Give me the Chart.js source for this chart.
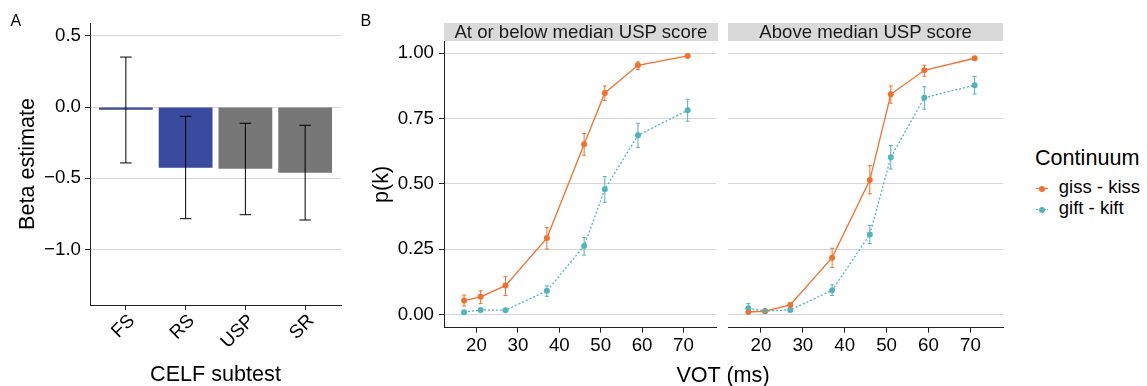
<!DOCTYPE html>
<html>
<head>
<meta charset="utf-8">
<script src="https://cdn.jsdelivr.net/npm/chart.js@4.4.1/dist/chart.umd.min.js"></script>
<style>
  body { margin: 0; background: #fff; font-family: "Liberation Sans", Arial, sans-serif; }
  #page { position: relative; width: 1147px; height: 386px; overflow: hidden; }
  canvas { position: absolute; top: 0; }
  .tag { position: absolute; font-size: 16px; line-height: 16px; color: #000; }
  .strip { position: absolute; top: 22.7px; height: 18px; background: #d9d9d9; font-size: 18.6px;
           line-height: 18px; text-align: center; color: #1a1a1a; white-space: nowrap; }
  #votTitle { position: absolute; left: 623px; width: 200px; top: 364.4px; text-align: center;
              font-size: 21.6px; line-height: 21.6px; color: #000; }
  #legend { position: absolute; left: 1034px; top: 0; }
  #legend .ttl { position: absolute; left: 1px; top: 146.9px; font-size: 21.6px; line-height: 21.6px; white-space: nowrap; }
  #legend .row { position: absolute; left: 0; height: 21px; font-size: 18.5px; line-height: 21px; white-space: nowrap; }
  #legend .key { position: absolute; left: 2px; width: 12px; top: 11.6px; height: 0; }
  #legend .dot { position: absolute; left: 2.7px; top: -3px; width: 6px; height: 6px; border-radius: 50%; }
  #legend .txt { position: absolute; left: 24.8px; top: 0; }
</style>
</head>
<body>
<div id="page">
  <canvas id="panelA" width="355" height="386" style="left:0"></canvas>
  <canvas id="panelB1" width="360" height="386" style="left:360px"></canvas>
  <canvas id="panelB2" width="290" height="386" style="left:720px"></canvas>
  <div class="tag" style="left:10.5px;top:12.5px">A</div>
  <div class="tag" style="left:360.5px;top:12.5px">B</div>
  <div class="strip" style="left:444px;width:273.7px">At or below median USP score</div>
  <div class="strip" style="left:728px;width:275.3px">Above median USP score</div>
  <div id="votTitle">VOT (ms)</div>
  <div id="legend"></div>
</div>
<script>
// Panel A: beta estimates per CELF subtest
const subtests = ['FS', 'RS', 'USP', 'SR'];
const betaEst = [-0.02, -0.425, -0.432, -0.46];
const betaLow = [-0.392, -0.783, -0.755, -0.792];
const betaHigh = [0.35, -0.065, -0.114, -0.128];

// Panel B: identification curves, VOT steps
const vot = [17, 21, 27, 37, 46, 51, 59, 71];

// at or below median USP score
const lowGiss = [0.054, 0.068, 0.111, 0.293, 0.652, 0.848, 0.954, 0.990];
const lowGissLo = [0.033, 0.042, 0.073, 0.251, 0.610, 0.819, 0.938, 0.985];
const lowGissHi = [0.075, 0.091, 0.145, 0.333, 0.693, 0.875, 0.967, 0.995];
const lowGift = [0.009, 0.018, 0.017, 0.091, 0.263, 0.480, 0.686, 0.782];
const lowGiftLo = [0.006, 0.013, 0.013, 0.070, 0.228, 0.430, 0.640, 0.740];
const lowGiftHi = [0.012, 0.023, 0.021, 0.110, 0.295, 0.528, 0.732, 0.824];

// above median USP score
const highGiss = [0.010, 0.013, 0.037, 0.218, 0.515, 0.843, 0.935, 0.981];
const highGissLo = [0.005, 0.008, 0.029, 0.180, 0.462, 0.809, 0.912, 0.974];
const highGissHi = [0.015, 0.018, 0.045, 0.254, 0.570, 0.875, 0.954, 0.987];
const highGift = [0.024, 0.014, 0.018, 0.093, 0.307, 0.602, 0.830, 0.878];
const highGiftLo = [0.005, 0.008, 0.011, 0.073, 0.272, 0.557, 0.786, 0.844];
const highGiftHi = [0.042, 0.020, 0.024, 0.114, 0.341, 0.647, 0.872, 0.911];

const FONT = '"Liberation Sans", Arial, sans-serif';
const ORANGE = '#f4702e';
const TEAL = '#52b3bd';
const AXIS = '#222';
const GRID = '#d6d6d6';

// draw whiskers from errLow/errHigh through the chart scales
const errorBars = {
  id: 'errorBars',
  afterDatasetsDraw(chart) {
    const ctx = chart.ctx;
    const xs = chart.scales.x, ys = chart.scales.y;
    chart.data.datasets.forEach((ds) => {
      if (!ds.errLow) return;
      ctx.save();
      ctx.strokeStyle = ds.errColor || ds.borderColor;
      ctx.lineWidth = ds.errWidth || 1;
      ds.data.forEach((d, j) => {
        const px = xs.getPixelForValue(d.x);
        const lo = ys.getPixelForValue(ds.errLow[j]);
        const hi = ys.getPixelForValue(ds.errHigh[j]);
        const c = ds.capHalf;
        ctx.beginPath();
        ctx.moveTo(px, lo); ctx.lineTo(px, hi);
        ctx.moveTo(px - c, lo); ctx.lineTo(px + c, lo);
        ctx.moveTo(px - c, hi); ctx.lineTo(px + c, hi);
        ctx.stroke();
      });
      ctx.restore();
    });
  }
};

Chart.defaults.font.family = FONT;
Chart.defaults.color = '#000';

const chartA = new Chart(document.getElementById('panelA'), {
  type: 'bar',
  data: {
    datasets: [{
      data: betaEst.map((v, i) => ({ x: i + 1, y: v })),
      backgroundColor: ['#3a4a9e', '#3a4a9e', '#777777', '#777777'],
      borderWidth: 0,
      barPercentage: 0.9,
      categoryPercentage: 1.0,
      errLow: betaLow,
      errHigh: betaHigh,
      errColor: '#000',
      capHalf: 5.8
    }]
  },
  options: {
    responsive: false,
    devicePixelRatio: 1,
    animation: false,
    layout: { padding: { top: 23, right: 14, left: 0, bottom: 0 } },
    plugins: { legend: { display: false }, tooltip: { enabled: false } },
    scales: {
      x: {
        type: 'linear',
        min: 0.4,
        max: 4.6,
        offset: false,
        afterFit: (s) => { s.height = 81; },
        border: { color: AXIS, width: 1 },
        grid: { offset: false, drawOnChartArea: false, tickColor: AXIS, tickLength: 5 },
        ticks: {
          stepSize: 1,
          includeBounds: false,
          minRotation: 45,
          maxRotation: 45,
          padding: 0,
          labelOffset: 6,
          font: { size: 18.7 },
          callback: (v) => subtests[v - 1]
        },
        title: { display: true, text: 'CELF subtest', font: { size: 21.6, lineHeight: 1 }, padding: { top: 0, bottom: 0 } }
      },
      y: {
        min: -1.388,
        max: 0.589,
        afterFit: (s) => { s.width = 90; },
        border: { color: AXIS, width: 1 },
        grid: { color: GRID, tickColor: AXIS, tickLength: 5 },
        ticks: {
          stepSize: 0.5,
          includeBounds: false,
          padding: 4,
          font: { size: 18.7 },
          callback: (v) => v.toFixed(1).replace('-', '\u2212')
        },
        title: { display: true, text: 'Beta estimate', font: { size: 21.6, lineHeight: 1 }, padding: { top: 17, bottom: 0 } }
      }
    }
  },
  plugins: [errorBars]
});

function series(label, ys, lo, hi, color, dash) {
  return {
    label: label,
    data: vot.map((v, i) => ({ x: v, y: ys[i] })),
    borderColor: color,
    backgroundColor: color,
    borderWidth: 1.3,
    borderDash: dash,
    pointRadius: 3,
    pointBorderWidth: 0,
    showLine: true,
    errLow: lo,
    errHigh: hi,
    capHalf: 2
  };
}

function facet(canvasId, gissSet, giftSet, withYAxis) {
  return new Chart(document.getElementById(canvasId), {
    type: 'scatter',
    data: {
      datasets: [
        series('gift - kift', giftSet[0], giftSet[1], giftSet[2], TEAL, [2, 2]),
        series('giss - kiss', gissSet[0], gissSet[1], gissSet[2], ORANGE, [])
      ]
    },
    options: {
      responsive: false,
      devicePixelRatio: 1,
      animation: false,
      layout: { padding: withYAxis ? { top: 41, right: 2.3, left: 0, bottom: 0 } : { top: 41, right: 6.7, left: 8, bottom: 0 } },
      plugins: { legend: { display: false }, tooltip: { enabled: false } },
      scales: {
        x: {
          type: 'linear',
          min: 12.15,
          max: 77.85,
          afterFit: (s) => { s.height = 58.3; },
          border: { color: AXIS, width: 1 },
          grid: { drawOnChartArea: false, tickColor: AXIS, tickLength: 5 },
          ticks: { stepSize: 10, includeBounds: false, padding: 2, maxRotation: 0, font: { size: 18.7 } }
        },
        y: {
          min: -0.05,
          max: 1.047,
          afterFit: (s) => { s.width = withYAxis ? 84 : 0; },
          border: { display: withYAxis, color: AXIS, width: 1 },
          grid: { color: GRID, tickColor: AXIS, tickLength: 5, drawTicks: withYAxis },
          ticks: {
            display: withYAxis,
            stepSize: 0.25,
            includeBounds: false,
            padding: 5,
            font: { size: 18.7 },
            callback: (v) => v.toFixed(2)
          },
          title: { display: withYAxis, text: 'p(k)', font: { size: 21.6, lineHeight: 1 }, padding: { top: 11.5, bottom: 0 } }
        }
      }
    },
    plugins: [errorBars]
  });
}

const chartLow = facet('panelB1', [lowGiss, lowGissLo, lowGissHi], [lowGift, lowGiftLo, lowGiftHi], true);
const chartHigh = facet('panelB2', [highGiss, highGissLo, highGissHi], [highGift, highGiftLo, highGiftHi], false);

// legend built from the right facet's datasets (giss first, as in the key)
const legend = document.getElementById('legend');
legend.innerHTML = '<div class="ttl">Continuum</div>';
const keyOrder = [1, 0];
const rowTops = [176.4, 197.1];
keyOrder.forEach((di, k) => {
  const ds = chartHigh.data.datasets[di];
  const row = document.createElement('div');
  row.className = 'row';
  row.style.top = rowTops[k] + 'px';
  const lineStyle = ds.borderDash.length ? 'dotted' : 'solid';
  row.innerHTML = '<span class="key" style="border-top:1.3px ' + lineStyle + ' ' + ds.borderColor + '">' +
    '<span class="dot" style="background:' + ds.backgroundColor + '"></span></span>' +
    '<span class="txt">' + ds.label + '</span>';
  legend.appendChild(row);
});
</script>
</body>
</html>
